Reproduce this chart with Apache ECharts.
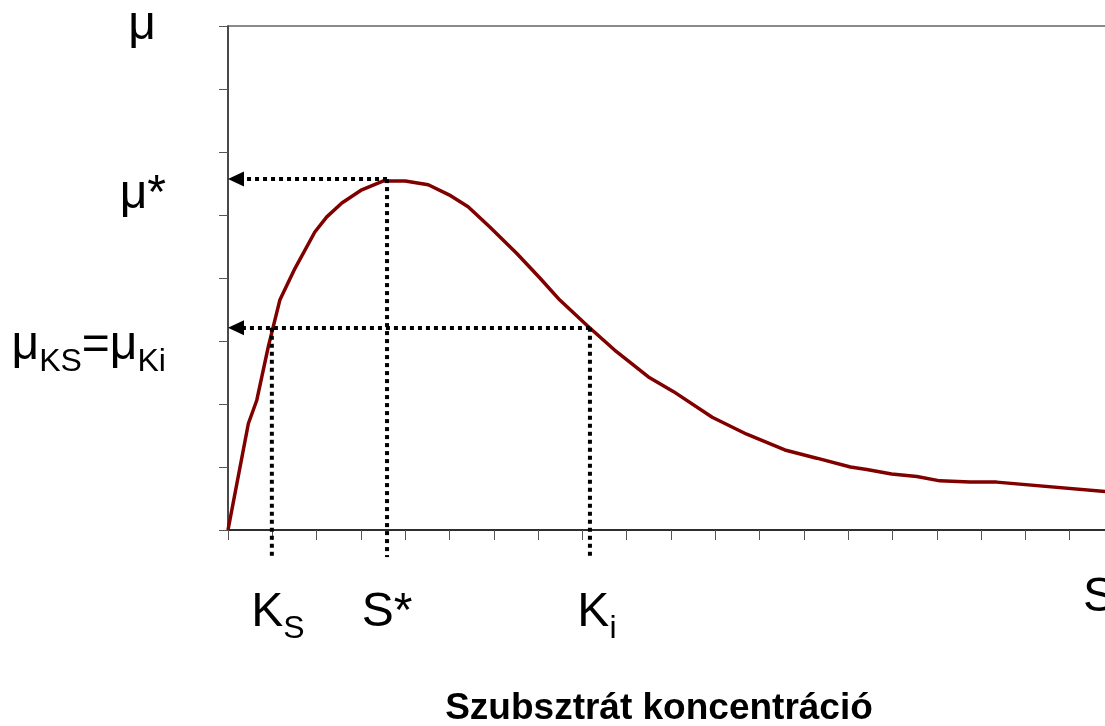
<!DOCTYPE html>
<html>
<head>
<meta charset="utf-8">
<script src="https://cdn.jsdelivr.net/npm/echarts@6/dist/echarts.min.js"></script>
<style>
  html, body { margin: 0; padding: 0; background: #fff; }
  #chart { width: 1105px; height: 726px; }
</style>
</head>
<body>
<div id="chart"></div>
<script>
// substrate concentration (x, in tick units) and growth rate (y, in tick units)
const sConc = [0, 0.46, 0.65, 0.91, 1.17, 1.51, 1.96, 2.23, 2.57, 3.02, 3.51, 4.0, 4.52, 4.99, 5.42, 5.91,
  6.52, 7.04, 7.49, 8.1, 8.77, 9.49, 10.05, 10.93, 11.71, 12.57, 13.29, 14.05, 14.42, 14.98, 15.55,
  16.07, 16.75, 17.35, 20.0];
const muVals = [0, 1.69, 2.06, 2.91, 3.65, 4.15, 4.73, 4.97, 5.19, 5.4, 5.54, 5.54, 5.48, 5.32, 5.13, 4.81,
  4.39, 4.0, 3.65, 3.25, 2.83, 2.43, 2.2, 1.79, 1.52, 1.27, 1.14, 1.0, 0.96, 0.89, 0.85,
  0.78, 0.76, 0.76, 0.6];

// guide positions
const ksX = 0.99, sStarX = 3.59, kiX = 8.17;
const muStar = 5.57, muK = 3.21;
const guideBottom = -0.43;
const arrowEnd = 0.18;

const font = "'Liberation Sans', Arial, sans-serif";
const big = { fontSize: 48, fontFamily: font, color: '#000', verticalAlign: 'bottom', padding: [0, 0, 8, 0] };
const sub = { fontSize: 32, fontFamily: font, color: '#000', verticalAlign: 'bottom' };

const dotted = { color: '#000', width: 4, type: [4, 4] };

const chart = echarts.init(document.getElementById('chart'));

// vertical guides go below the x axis, so they are drawn unclipped
function vGuide(x, yTop) {
  return {
    type: 'line', data: [[x, yTop], [x, guideBottom]], clip: false,
    showSymbol: false, symbol: 'none', silent: true,
    lineStyle: dotted, z: 4
  };
}
function xLabel(x, text, dx) {
  return {
    type: 'scatter', data: [[x, guideBottom]], clip: false, symbolSize: 0, silent: true,
    itemStyle: { opacity: 1 },
    label: { show: true, position: 'bottom', distance: 32, offset: [dx, 0], formatter: text, rich: { a: big, s: sub } },
    z: 5
  };
}

chart.setOption({
  animation: false,
  grid: {
    left: 228, top: 26, right: -9, bottom: 196,
    outerBoundsMode: 'none', containLabel: false,
    show: true, borderColor: '#666', borderWidth: 1.5
  },
  xAxis: {
    type: 'value', min: 0, max: 20, interval: 1,
    name: 'Szubsztrát koncentráció',
    nameLocation: 'middle', nameGap: 160,
    nameTextStyle: { fontSize: 37, fontWeight: 'bold', fontFamily: font, color: '#000', padding: [0, 24, 0, 0] },
    axisLine: { lineStyle: { color: '#111', width: 1.5 } },
    axisTick: { show: true, inside: false, length: 10, lineStyle: { color: '#555', width: 1 } },
    axisLabel: { show: false },
    splitLine: { show: false }
  },
  yAxis: {
    type: 'value', min: 0, max: 8, interval: 1,
    name: 'μ', nameLocation: 'end', nameGap: 0,
    nameTextStyle: { fontSize: 48, fontFamily: font, color: '#000', align: 'right', verticalAlign: 'middle', padding: [14, 72, 0, 0] },
    axisLine: { show: true, lineStyle: { color: '#333', width: 1.5 } },
    axisTick: { show: true, inside: false, length: 9, lineStyle: { color: '#555', width: 1 } },
    axisLabel: { show: false },
    splitLine: { show: false }
  },
  graphic: [{
    type: 'text', left: 1083, top: 574,
    style: { text: 'S', fontSize: 48, fontFamily: font, fill: '#000' }
  }],
  series: [
    {
      type: 'line',
      data: sConc.map((x, i) => [x, muVals[i]]),
      showSymbol: false,
      lineStyle: { color: '#800000', width: 3.5 },
      z: 3
    },
    {
      type: 'line',
      data: [],
      markLine: {
        silent: true,
        animation: false,
        lineStyle: dotted,
        data: [
          [{ coord: [sStarX, muStar], symbol: 'none' },
           { coord: [arrowEnd, muStar], symbol: 'triangle', symbolSize: [15, 16],
             label: { show: true, position: 'end', distance: 70, offset: [0, 20], formatter: '{a|μ*}', rich: { a: big } } }],
          [{ coord: [kiX, muK], symbol: 'none' },
           { coord: [arrowEnd, muK], symbol: 'triangle', symbolSize: [15, 16],
             label: { show: true, position: 'end', distance: 70, offset: [0, 22], formatter: '{a|μ}{s|KS}{a|=μ}{s|Ki}', rich: { a: big, s: sub } } }]
        ]
      },
      z: 4
    },
    vGuide(ksX, muK),
    vGuide(sStarX, muStar),
    vGuide(kiX, muK),
    xLabel(ksX, '{a|K}{s|S}', 6),
    xLabel(sStarX, '{a|S*}', 0),
    xLabel(kiX, '{a|K}{s|i}', 7)
  ]
});
</script>
</body>
</html>
